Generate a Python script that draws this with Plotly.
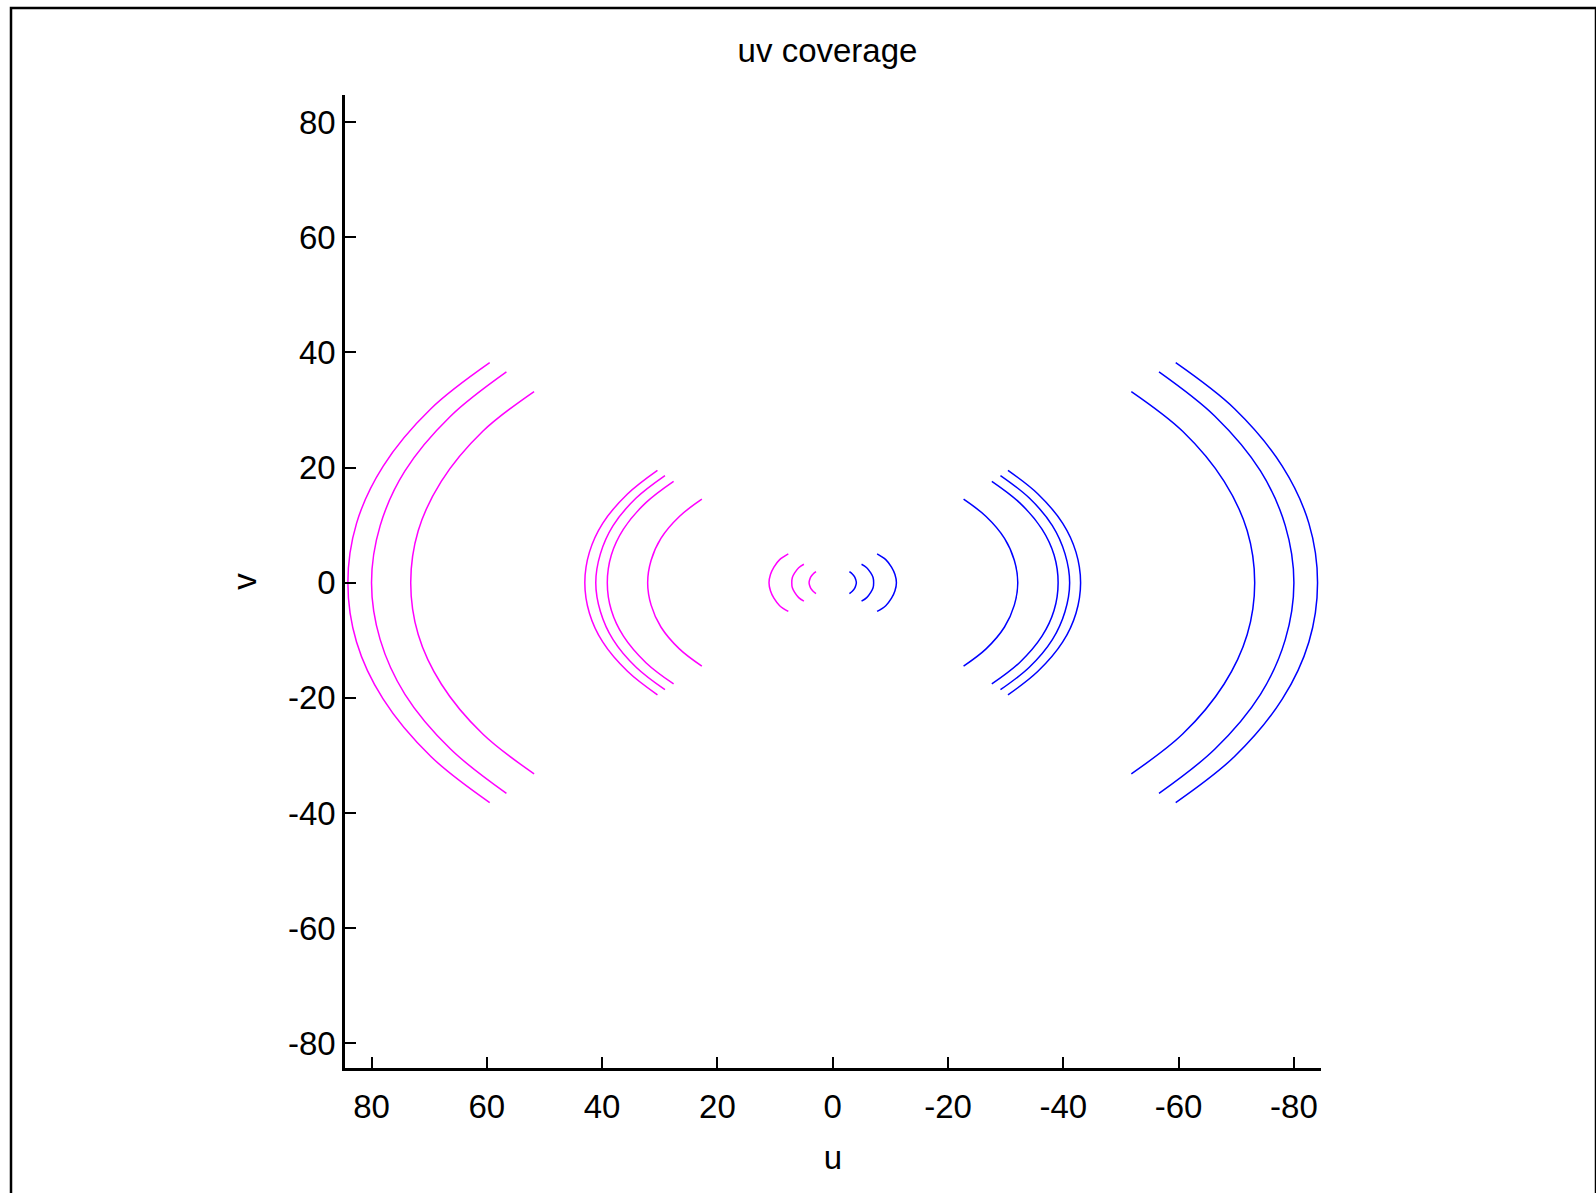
import plotly.graph_objects as go

# u, v samples along each baseline track (upper end -> lower end)
track_u = [
    [59.5, 69.7, 78.0, 82.6, 84.1, 82.6, 78.0, 69.7, 59.5],
    [56.6, 66.3, 74.2, 78.5, 80.0, 78.5, 74.2, 66.3, 56.6],
    [51.8, 60.7, 67.9, 71.9, 73.2, 71.9, 67.9, 60.7, 51.8],
    [30.4, 35.6, 39.9, 42.2, 43.0, 42.2, 39.9, 35.6, 30.4],
    [29.1, 34.1, 38.1, 40.3, 41.1, 40.3, 38.1, 34.1, 29.1],
    [27.6, 32.4, 36.3, 38.4, 39.1, 38.4, 36.3, 32.4, 27.6],
    [22.7, 26.6, 29.8, 31.5, 32.1, 31.5, 29.8, 26.6, 22.7],
    [7.7, 9.2, 10.2, 10.8, 11.05, 10.8, 10.2, 9.2, 7.7],
    [5.0, 5.9, 6.6, 7.0, 7.1, 7.0, 6.6, 5.9, 5.0],
    [2.9, 3.4, 3.8, 4.0, 4.1, 4.0, 3.8, 3.4, 2.9],
]
track_v = [
    [38.2, 30.2, 20.2, 10.3, 0.0, -10.3, -20.2, -30.2, -38.2],
    [36.6, 28.9, 19.4, 9.9, 0.0, -9.9, -19.4, -28.9, -36.6],
    [33.2, 26.3, 17.6, 9.0, 0.0, -9.0, -17.6, -26.3, -33.2],
    [19.5, 15.4, 10.3, 5.3, 0.0, -5.3, -10.3, -15.4, -19.5],
    [18.6, 14.7, 9.9, 5.0, 0.0, -5.0, -9.9, -14.7, -18.6],
    [17.6, 13.9, 9.3, 4.8, 0.0, -4.8, -9.3, -13.9, -17.6],
    [14.5, 11.5, 7.7, 3.9, 0.0, -3.9, -7.7, -11.5, -14.5],
    [5.0, 4.0, 2.7, 1.4, 0.0, -1.4, -2.7, -4.0, -5.0],
    [3.2, 2.6, 1.7, 0.9, 0.0, -0.9, -1.7, -2.6, -3.2],
    [1.9, 1.5, 1.0, 0.5, 0.0, -0.5, -1.0, -1.5, -1.9],
]

tick_vals = [80, 60, 40, 20, 0, -20, -40, -60, -80]
tick_text = ["80", "60", "40", "20", "0", "-20", "-40", "-60", "-80"]

TRACK_COLOR = "#ff00ff"
CONJ_COLOR = "#0000ff"
FONT = "Liberation Sans, Arial, sans-serif"
FS = 33

W, H = 1596, 1193
L, R, T, B = 345, 275, 95, 125
PW, PH = W - L - R, H - T - B

fig = go.Figure()

for u, v in zip(track_u, track_v):
    fig.add_trace(go.Scatter(
        x=u, y=v, mode="lines",
        line=dict(color=TRACK_COLOR, width=1.5, shape="spline"),
        showlegend=False, hoverinfo="skip",
    ))

# conjugate visibilities at (-u, -v)
for u, v in zip(track_u, track_v):
    fig.add_trace(go.Scatter(
        x=[-a for a in u], y=[-b for b in v], mode="lines",
        line=dict(color=CONJ_COLOR, width=1.5, shape="spline"),
        showlegend=False, hoverinfo="skip",
    ))

axis_common = dict(
    showline=True, linecolor="black", linewidth=2.5,
    ticks="inside", ticklen=11, tickwidth=2, tickcolor="black",
    showgrid=False, zeroline=False, mirror=False,
    tickvals=tick_vals, ticktext=tick_text,
    tickfont=dict(family=FONT, size=FS, color="black"),
)

fig.update_layout(
    width=W, height=H,
    margin=dict(l=L, r=R, t=T, b=B, autoexpand=False),
    paper_bgcolor="white", plot_bgcolor="white",
    font=dict(family=FONT, size=FS, color="black"),
    title=dict(
        text="uv coverage", font=dict(family=FONT, size=FS, color="black"),
        x=(827.5 - L) / PW, xref="paper", xanchor="center",
        y=1 - 50 / H, yref="container", yanchor="middle",
    ),
    xaxis=dict(
        range=[84.6, -84.7],
        ticklabelstandoff=8,
        title=dict(text="u", font=dict(family=FONT, size=FS), standoff=22),
        **axis_common,
    ),
    yaxis=dict(
        range=[-84.3, 84.7],
        title=dict(text="v", font=dict(family=FONT, size=FS), standoff=22),
        **axis_common,
    ),
    shapes=[dict(
        type="rect", xref="paper", yref="paper",
        x0=(11 - L) / PW, x1=(1596 - L) / PW,
        y0=(T + PH - 1210) / PH, y1=(T + PH - 8) / PH,
        line=dict(color="black", width=2.5), fillcolor="rgba(0,0,0,0)",
        layer="below",
    )],
)

fig.write_html("out.html")
